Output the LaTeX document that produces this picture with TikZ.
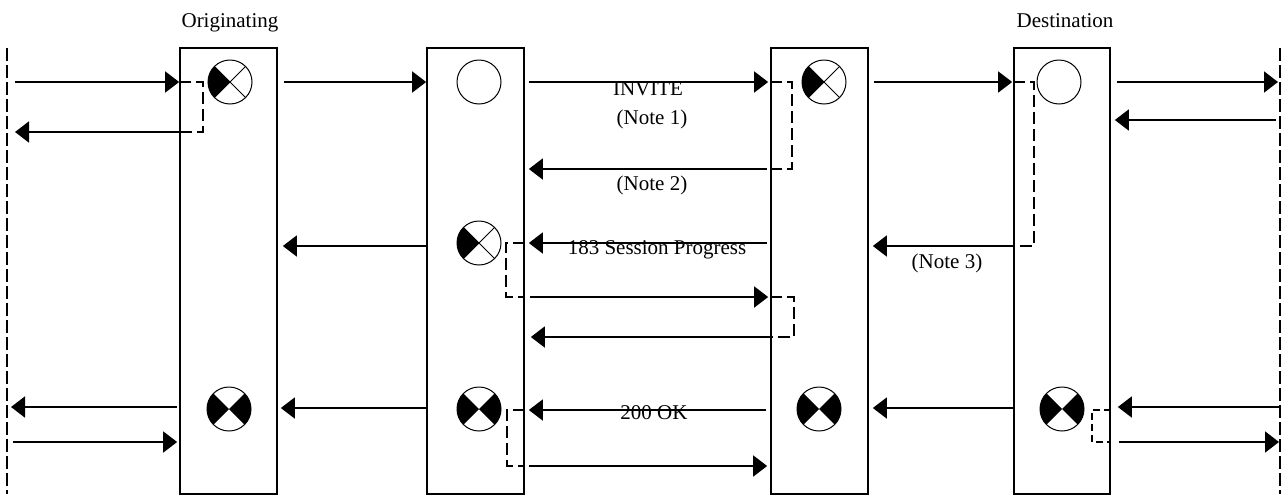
\documentclass[tikz,border=0pt]{standalone}
\usepackage{fontspec}
\setmainfont{Liberation Serif}
\usetikzlibrary{arrows.meta}
\begin{document}
\begin{tikzpicture}[x=1pt,y=-1pt,
  box/.style={draw, line width=1.7pt, minimum width=97pt, minimum height=446pt, inner sep=0pt},
  ball/.style={draw, circle, line width=1pt, minimum size=44pt, inner sep=0pt},
  halfx/.style={ball, path picture={
     \fill (path picture bounding box.center) -- (path picture bounding box.north west) -- (path picture bounding box.south west) -- cycle;
     \draw[line width=0.9pt] (path picture bounding box.north west) -- (path picture bounding box.south east)
           (path picture bounding box.south west) -- (path picture bounding box.north east);}},
  fullx/.style={ball, path picture={
     \fill (path picture bounding box.center) -- (path picture bounding box.north west) -- (path picture bounding box.south west) -- cycle;
     \fill (path picture bounding box.center) -- (path picture bounding box.north east) -- (path picture bounding box.south east) -- cycle;}},
  msg/.style={line width=1.8pt, -{Triangle[length=14pt,width=21pt]}},
  conn/.style={line width=1.6pt, dash pattern=on 12pt off 5pt},
  life/.style={line width=1.7pt, dash pattern=on 13pt off 4pt},
  lbl/.style={anchor=base, inner sep=0pt, font=\fontsize{21}{25}\selectfont}
]
\fill[white] (0,0) rectangle (1288,496);
\useasboundingbox (0,0) rectangle (1288,496);

% lifelines
\coordinate (Ltop) at (7,48);  \coordinate (Lbot) at (7,494);
\coordinate (Rtop) at (1280,48); \coordinate (Rbot) at (1280,494);
\draw[life] (Ltop) -- (Lbot);
\draw[life] (Rtop) -- (Rbot);

% boxes
\node[box] (b1) at (228.5,271) {};
\node[box] (b2) at (475.5,271) {};
\node[box] (b3) at (819.5,271) {};
\node[box, minimum width=96pt] (b4) at (1062,271) {};

% circles
\node[halfx] (c1) at (230,82) {};
\node[ball]  (c2) at (479,82) {};
\node[halfx] (c3) at (824,82) {};
\node[ball]  (c4) at (1059,82) {};
\node[halfx] (c5) at (479,243) {};
\node[fullx] (c6) at (229,409) {};
\node[fullx] (c7) at (479,409) {};
\node[fullx] (c8) at (819,409) {};
\node[fullx] (c9) at (1062,409) {};

% row levels
\coordinate (y82) at (0,82);
\coordinate (y120) at (0,120);
\coordinate (y132) at (0,132);
\coordinate (y169) at (0,169);
\coordinate (y243) at (0,243);
\coordinate (y246) at (0,246);
\coordinate (y297) at (0,297);
\coordinate (y337) at (0,337);
\coordinate (y407) at (0,407);
\coordinate (y408) at (0,408);
\coordinate (y410) at (0,410);
\coordinate (y442) at (0,442);
\coordinate (y466) at (0,466);

% messages
\draw[msg, shorten <=8pt] (Ltop |- y82) -- (b1.west |- y82);
\draw[msg, shorten <=6pt] (b1.east |- y82) -- (b2.west |- y82);
\draw[msg, shorten <=4pt, shorten >=2pt] (b2.east |- y82) -- (b3.west |- y82);
\draw[msg, shorten <=5pt, shorten >=1pt] (b3.east |- y82) -- (b4.west |- y82);
\draw[msg, shorten <=6pt, shorten >=2pt] (b4.east |- y82) -- (Rtop |- y82);
\draw[msg, shorten >=8pt] (b1.west |- y132) -- (Ltop |- y132);
\draw[msg, shorten <=4pt, shorten >=4pt] (Rtop |- y120) -- (b4.east |- y120);
\draw[msg, shorten <=3pt, shorten >=4pt] (b3.west |- y169) -- (b2.east |- y169);
\draw[msg, shorten >=4pt] (b4.west |- y246) -- (b3.east |- y246);
\draw[msg, shorten <=3pt, shorten >=4pt] (b3.west |- y243) -- (b2.east |- y243);
\draw[msg, shorten >=5pt] (b2.west |- y246) -- (b1.east |- y246);
\draw[msg, shorten <=5pt, shorten >=2pt] (b2.east |- y297) -- (b3.west |- y297);
\draw[msg, shorten >=6pt] (b3.west |- y337) -- (b2.east |- y337);
\draw[msg, shorten <=2pt, shorten >=4pt] (b1.west |- y407) -- (Ltop |- y407);
\draw[msg, shorten <=6pt, shorten >=2pt] (Ltop |- y442) -- (b1.west |- y442);
\draw[msg, shorten >=3pt] (b2.west |- y408) -- (b1.east |- y408);
\draw[msg, shorten <=4pt, shorten >=4pt] (b3.west |- y410) -- (b2.east |- y410);
\draw[msg, shorten <=4pt, shorten >=3pt] (b2.east |- y466) -- (b3.west |- y466);
\draw[msg, shorten >=4pt] (b4.west |- y408) -- (b3.east |- y408);
\draw[msg, shorten >=7pt] (Rtop |- y407) -- (b4.east |- y407);
\draw[msg, shorten <=8pt, shorten >=1pt] (b4.east |- y442) -- (Rtop |- y442);

% dashed internal connectors
\draw[conn] (b1.west |- y82) -- ++(24,0) |- (b1.west |- y132);
\draw[conn] (b3.west |- y82) -- ++(22,0) |- (b3.west |- y169);
\draw[conn] (b4.west |- y82) -- ++(21,0) |- (b4.west |- y246);
\draw[conn] (b2.east |- y243) -- ++(-19,0) |- (b2.east |- y297);
\draw[conn] (b3.west |- y297) -- ++(24,0) |- (b3.west |- y337);
\draw[conn] (b2.east |- y410) -- ++(-18,0) |- (b2.east |- y466);
\draw[conn, dash pattern=on 7pt off 4pt] (b4.east |- y410) -- ++(-19,0) |- (b4.east |- y442);

% labels
\node[lbl] (tOrig) at (230,27) {Originating};
\node[lbl] (tDest) at (1065,27) {Destination};
\node[lbl] (tInv) at (648,95) {INVITE};
\node[lbl] (tN1) at (652,124) {(Note 1)};
\node[lbl] (tN2) at (652,190) {(Note 2)};
\node[lbl] (tSP) at (657,254) {183 Session Progress};
\node[lbl] (tN3) at (947,268) {(Note 3)};
\node[lbl] (tOK) at (654,419) {200 OK};
\end{tikzpicture}
\end{document}
